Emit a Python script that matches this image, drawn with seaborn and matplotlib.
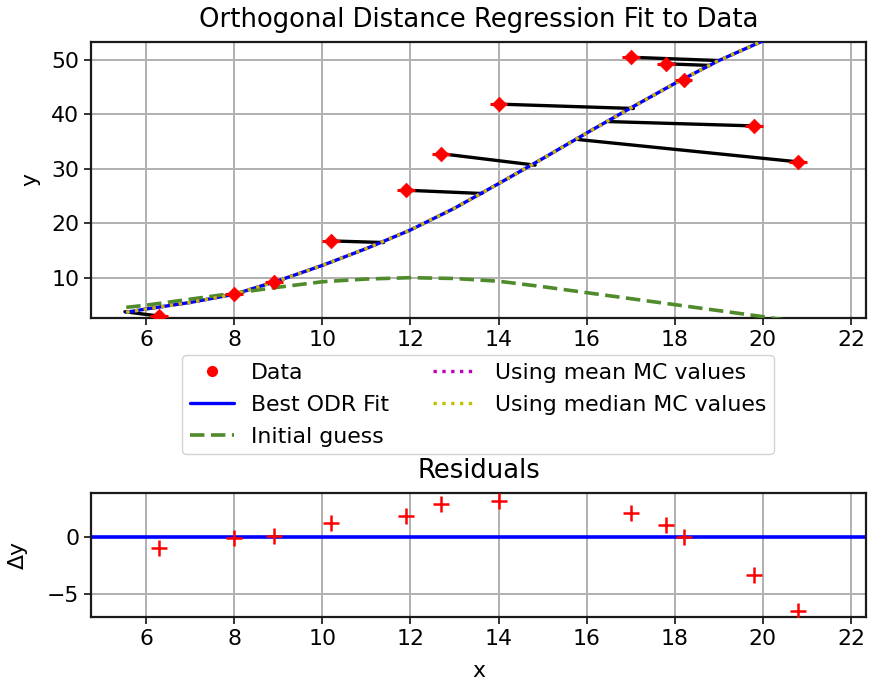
import matplotlib
matplotlib.use("Agg")
import matplotlib.pyplot as plt
import seaborn as sns
import numpy as np
import pandas as pd
from matplotlib.lines import Line2D

# ---- data ----
x_data = [6.3, 8.0, 8.9, 10.2, 11.9, 12.7, 14.0, 17.0, 17.8, 18.2, 19.8, 20.8]
y_data = [3.0, 7.0, 9.3, 16.8, 26.1, 32.8, 41.9, 50.5, 49.3, 46.3, 37.9, 31.3]
x_err = [0.2] * 12
y_err = [1.0] * 12

# points on the fit that each datum is linked to (orthogonal projection)
x_proj = [5.52, 8.0, 8.9, 11.39, 13.62, 14.83, 17.06, 18.99, 18.8, 18.19, 16.49, 15.81]
y_proj = [3.8, 7.0, 9.3, 16.5, 25.5, 30.7, 41.1, 49.9, 49.0, 46.2, 38.7, 35.4]

# best ODR fit curve (read)
fit_x = [5.55, 6, 7, 8, 9, 10, 11, 12, 13, 14, 15, 16, 17, 18, 19, 20, 21]
fit_y = [3.7, 4.3, 5.5, 7.0, 9.5, 12.3, 15.4, 18.8, 22.8, 27.3, 31.9, 36.6, 41.2, 45.7, 49.9, 53.5, 57.0]

# initial guess curve (read)
guess_x = [5.55, 6, 7, 8, 9, 10, 11, 12, 13, 14, 15, 16, 17, 18, 19, 20, 20.5]
guess_y = [4.6, 5.0, 6.1, 7.2, 8.3, 9.3, 9.8, 10.05, 9.9, 9.4, 8.4, 7.3, 6.2, 5.1, 4.0, 2.9, 2.3]

# residuals
resid = [-1.0, -0.1, 0.05, 1.25, 1.85, 2.85, 3.15, 2.1, 1.05, 0.0, -3.4, -6.5]

x_ticks = [6, 8, 10, 12, 14, 16, 18, 20, 22]

# ---- style ----
sns.set_style("ticks", {"axes.grid": True, "grid.color": "#b0b0b0",
                        "axes.edgecolor": "#1a1a1a", "xtick.color": "#333333",
                        "ytick.color": "#333333", "xtick.direction": "out",
                        "ytick.direction": "out", "text.color": "black",
                        "axes.labelcolor": "black"})
plt.rcParams["font.family"] = ["DejaVu Sans"]
plt.rcParams["axes.linewidth"] = 1.6
plt.rcParams["grid.linewidth"] = 1.4
plt.rcParams["xtick.major.size"] = 5
plt.rcParams["ytick.major.size"] = 5
plt.rcParams["xtick.major.width"] = 1.4
plt.rcParams["ytick.major.width"] = 1.4
plt.rcParams["xtick.labelcolor"] = "black"
plt.rcParams["ytick.labelcolor"] = "black"

FS = 15.8
TFS = 18.6
fig = plt.figure(figsize=(8.69, 6.86), dpi=100)
W, H = 869, 686
ax = fig.add_axes([91 / W, 1 - 318 / H, 775 / W, 276 / H])
axr = fig.add_axes([91 / W, 1 - 617 / H, 775 / W, 124 / H])

df_fit = pd.DataFrame({"x": fit_x, "y": fit_y})
df_guess = pd.DataFrame({"x": guess_x, "y": guess_y})

# links between data and fit
for xd, yd, xp, yp in zip(x_data, y_data, x_proj, y_proj):
    ax.plot([xd, xp], [yd, yp], color="black", lw=2.4, zorder=3)

sns.lineplot(data=df_fit, x="x", y="y", ax=ax, color="blue", lw=2.4,
             label="Best ODR Fit", sort=False, zorder=4)
sns.lineplot(data=df_guess, x="x", y="y", ax=ax, color="#4f8a2b", lw=2.6,
             label="Initial guess", sort=False, zorder=4)
ax.lines[-1].set_linestyle((0, (4.0, 1.8)))
ax.plot(fit_x, fit_y, color="m", lw=2.4, linestyle=":", label="Using mean MC values", zorder=5)
ax.plot(fit_x, fit_y, color="y", lw=2.4, linestyle=":", label="Using median MC values", zorder=6)

ax.errorbar(x_data, y_data, xerr=x_err, yerr=y_err, fmt="none", ecolor="red",
            elinewidth=2.2, zorder=7)
sns.scatterplot(x=x_data, y=y_data, ax=ax, color="red", s=55, edgecolor="red",
                linewidth=0.5, marker="D", label="Data", zorder=8)

ax.set_xlim(4.75, 22.34)
ax.set_ylim(2.65, 53.3)
ax.set_xticks(x_ticks)
ax.set_yticks([10, 20, 30, 40, 50])
ax.set_xlabel("")
ax.set_ylabel("y", fontsize=FS, labelpad=8)
ax.set_title("Orthogonal Distance Regression Fit to Data", fontsize=TFS, pad=11)
ax.tick_params(labelsize=FS)

handles, labels = ax.get_legend_handles_labels()
order = ["Data", "Best ODR Fit", "Initial guess", "Using mean MC values", "Using median MC values"]
hmap = dict(zip(labels, handles))
ax.get_legend().remove()
hmap["Data"] = Line2D([], [], marker="o", color="red", linestyle="none", markersize=7)
leg = fig.legend([hmap[k] for k in order], order, loc="upper center",
                 bbox_to_anchor=(478 / W, 1 - 344 / H), ncol=2, fontsize=FS,
                 frameon=True, handlelength=2.0, columnspacing=2.0,
                 labelspacing=0.55, borderpad=0.35)
leg.get_frame().set_edgecolor("#c8c8c8")

# residuals
axr.axhline(0, color="blue", lw=2.6, zorder=2)
sns.scatterplot(x=x_data, y=resid, ax=axr, color="red", marker="+", s=120,
                linewidth=1.8, zorder=3)
axr.set_xlim(4.75, 22.34)
axr.set_ylim(-7.05, 3.85)
axr.set_xticks(x_ticks)
axr.set_yticks([-5, 0])
axr.set_xlabel("x", fontsize=FS, labelpad=9)
axr.set_ylabel("Δy", fontsize=FS, labelpad=14)
axr.set_title("Residuals", fontsize=TFS, pad=11)
axr.tick_params(labelsize=FS)

fig.savefig("out.png", dpi=100)
